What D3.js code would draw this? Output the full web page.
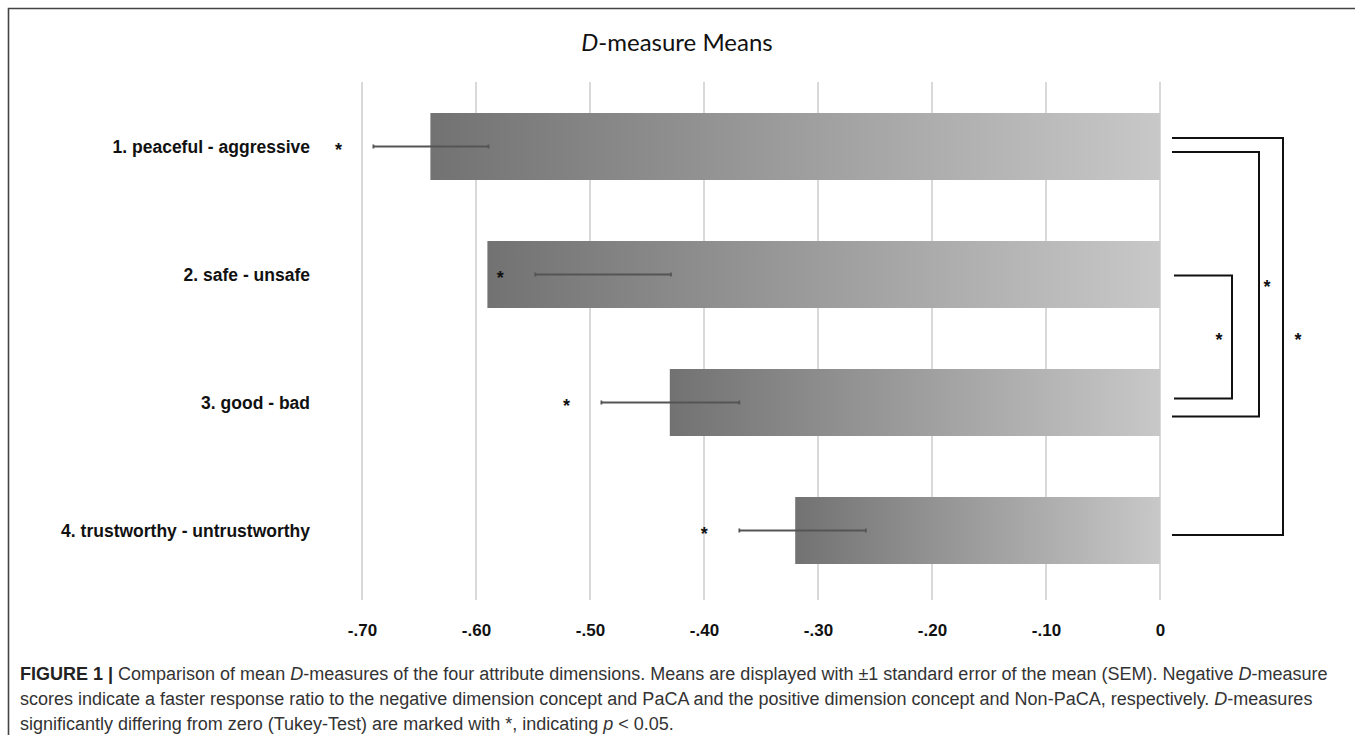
<!DOCTYPE html>
<html><head><meta charset="utf-8">
<script src="https://cdn.jsdelivr.net/npm/d3@7"></script>
<style>body{margin:0;background:#fff}svg{display:block}</style>
</head><body>
<script>
// ---- data ----
const categories = ["1. peaceful - aggressive", "2. safe - unsafe", "3. good - bad", "4. trustworthy - untrustworthy"];
const means = [-0.64, -0.59, -0.43, -0.32];
const errLow = [-0.69, -0.548, -0.49, -0.369];
const errHigh = [-0.589, -0.429, -0.369, -0.258];
const significant = [true, true, true, true];
const tickValues = [-0.7, -0.6, -0.5, -0.4, -0.3, -0.2, -0.1, 0];
const tickLabels = ["-.70", "-.60", "-.50", "-.40", "-.30", "-.20", "-.10", "0"];
const compFrom = [0, 0, 1];
const compTo = [3, 2, 2];

// ---- layout ----
const W = 1355, H = 735;
const svg = d3.select("body").append("svg").attr("width", W).attr("height", H);

const x = d3.scaleLinear().domain([-0.7, 0]).range([362, 1160]);
const y = d3.scaleBand().domain(categories).range([82.5, 594.5]).paddingInner(0.4766).paddingOuter(0.2383);

// frame
svg.append("path").attr("d", `M8.5,${H} V8.5 H${W}`).attr("fill", "none").attr("stroke", "#444").attr("stroke-width", 1.6);

// title
const title = svg.append("text").attr("x", 677).attr("y", 51).attr("text-anchor", "middle")
  .attr("font-family", "Lato, 'Open Sans', sans-serif").attr("font-size", 24).attr("fill", "#111");
title.append("tspan").attr("font-style", "italic").text("D");
title.append("tspan").text("-measure Means");

// gridlines
svg.append("g").selectAll("line").data(tickValues).join("line")
  .attr("x1", d => x(d)).attr("x2", d => x(d)).attr("y1", 82).attr("y2", 600)
  .attr("stroke", "#d9d9d9").attr("stroke-width", 2);

// gradient
const grad = svg.append("defs").append("linearGradient").attr("id", "barGrad")
  .attr("x1", "0").attr("x2", "1").attr("y1", "0").attr("y2", "0");
grad.append("stop").attr("offset", "0").attr("stop-color", "#727272");
grad.append("stop").attr("offset", "1").attr("stop-color", "#c8c8c8");

// bars
svg.append("g").selectAll("rect").data(categories).join("rect")
  .attr("x", (d, i) => x(means[i])).attr("width", (d, i) => x(0) - x(means[i]))
  .attr("y", d => y(d)).attr("height", y.bandwidth())
  .attr("fill", "url(#barGrad)");

// error bars
const eb = svg.append("g").attr("stroke", "#555").attr("stroke-width", 1.8);
categories.forEach((c, i) => {
  const cy = y(c) + y.bandwidth() / 2;
  eb.append("line").attr("x1", x(errLow[i])).attr("x2", x(errHigh[i])).attr("y1", cy).attr("y2", cy);
  eb.append("line").attr("x1", x(errLow[i])).attr("x2", x(errLow[i])).attr("y1", cy - 2).attr("y2", cy + 2);
  eb.append("line").attr("x1", x(errHigh[i])).attr("x2", x(errHigh[i])).attr("y1", cy - 2).attr("y2", cy + 2);
});

// significance stars near bars
svg.append("g").selectAll("text").data(categories.filter((c, i) => significant[i])).join("text")
  .attr("x", (d) => x(errLow[categories.indexOf(d)]) - 35)
  .attr("y", d => y(d) + y.bandwidth() / 2 + 9)
  .attr("text-anchor", "middle").attr("font-family", "Liberation Sans, Arial, sans-serif")
  .attr("font-weight", "bold").attr("font-size", 18).attr("fill", "#111").text("*");

// category labels
svg.append("g").selectAll("text").data(categories).join("text")
  .attr("x", 310).attr("y", d => y(d) + y.bandwidth() / 2 + 6)
  .attr("text-anchor", "end").attr("font-family", "Liberation Sans, Arial, sans-serif")
  .attr("font-weight", "bold").attr("font-size", 17.5).attr("fill", "#111").text(d => d);

// x axis labels
const xAxis = d3.axisBottom(x).tickValues(tickValues).tickFormat((d, i) => tickLabels[i]).tickSize(0).tickPadding(0);
const ax = svg.append("g").attr("transform", "translate(0,624)").call(xAxis);
ax.select(".domain").remove();
ax.selectAll("text").attr("font-family", "Liberation Sans, Arial, sans-serif").attr("font-weight", "bold")
  .attr("font-size", 17).attr("fill", "#111");

// comparison brackets
const bracketX0 = [1172, 1172, 1174];
const bracketX1 = [1283, 1259, 1232];
const bracketTopOff = [-8.5, 5.5, 1];
const bracketBotOff = [4.5, 14, -4];
const starDX = [15, 8, -13];
const br = svg.append("g");
compFrom.forEach((f, k) => {
  const y0 = y(categories[f]) + y.bandwidth() / 2 + bracketTopOff[k];
  const y1 = y(categories[compTo[k]]) + y.bandwidth() / 2 + bracketBotOff[k];
  br.append("path").attr("d", `M${bracketX0[k]},${y0} H${bracketX1[k]} V${y1} H${bracketX0[k]}`)
    .attr("fill", "none").attr("stroke", "#111").attr("stroke-width", 2);
  br.append("text").attr("x", bracketX1[k] + starDX[k]).attr("y", (y0 + y1) / 2 + 9)
    .attr("text-anchor", "middle").attr("font-family", "Liberation Sans, Arial, sans-serif")
    .attr("font-weight", "bold").attr("font-size", 18).attr("fill", "#111").text("*");
});

// caption
const cap = svg.append("g").attr("font-family", "Liberation Sans, Arial, Helvetica, sans-serif")
  .attr("font-size", 18).attr("fill", "#333");
const lines = [
  [["b", "FIGURE 1 | "], ["n", "Comparison of mean "], ["i", "D"], ["n", "-measures of the four attribute dimensions. Means are displayed with \u00b11 standard error of the mean (SEM). Negative "], ["i", "D"], ["n", "-measure"]],
  [["n", "scores indicate a faster response ratio to the negative dimension concept and PaCA and the positive dimension concept and Non-PaCA, respectively. "], ["i", "D"], ["n", "-measures"]],
  [["n", "significantly differing from zero (Tukey-Test) are marked with *, indicating "], ["i", "p"], ["n", " < 0.05."]]
];
const lineY = [680, 705, 730];
lines.forEach((segs, li) => {
  const t = cap.append("text").attr("x", 20).attr("y", lineY[li]);
  segs.forEach(([k, s]) => {
    const ts = t.append("tspan").text(s);
    if (k === "b") ts.attr("font-weight", "bold").attr("fill", "#222");
    if (k === "i") ts.attr("font-style", "italic");
  });
});
</script>
</body></html>
